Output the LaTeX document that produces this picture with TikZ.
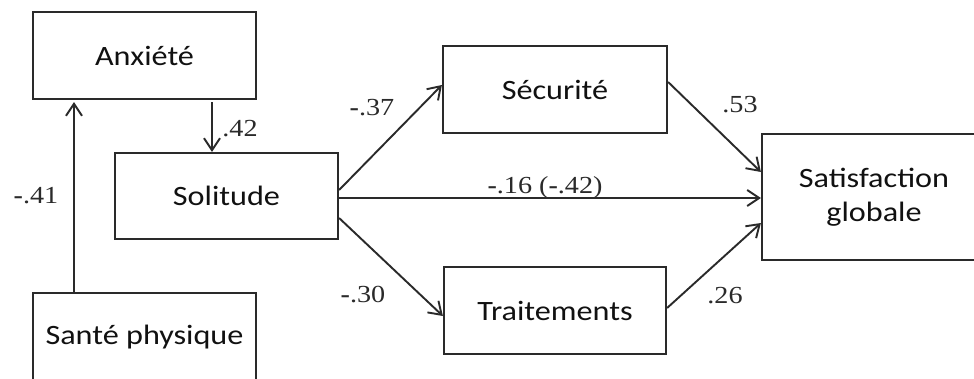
\documentclass[tikz,border=0pt]{standalone}
\usepackage{fontspec}
\usepackage{graphicx}
\setmainfont{Liberation Serif}
\newfontfamily\boxfont{Carlito}
\usetikzlibrary{arrows.meta,positioning}
\definecolor{lineC}{HTML}{2A2A2A}
\definecolor{textC}{HTML}{111111}
\definecolor{numC}{HTML}{2A2A2A}
\newcommand\bxs[1]{\scalebox{1.15}[1]{#1}}
\newcommand\ms{\textbf{-}}
\begin{document}
\begin{tikzpicture}[x=1pt,y=-1pt,
  box/.style={draw=lineC, line width=2.2pt, rectangle, inner sep=0pt,
    font=\boxfont\fontsize{28}{34}\selectfont, text=textC, align=center},
  arr/.style={draw=lineC, line width=1.9pt, -{Straight Barb[length=12pt,width=16pt,line width=1.9pt]}},
  num/.style={font=\fontsize{24.5}{28}\selectfont, text=numC, inner sep=0pt}]
\useasboundingbox (0,0) rectangle (974,378);
\clip (0,0) rectangle (974,378);
\fill[white] (0,0) rectangle (974,378);

\node[box, minimum width=223pt, minimum height=87pt] (anx) at (144.5,55.5) {\bxs{Anxiété}};
\node[box, minimum width=223pt, minimum height=86pt] (sol) at (226.5,196) {\bxs{Solitude}};
\node[box, minimum width=223pt, minimum height=89pt] (sante) at (144.5,337.5) {\bxs{Santé physique}};
\node[box, minimum width=224pt, minimum height=87pt] (sec) at (555,89.5) {\bxs{Sécurité}};
\node[box, minimum width=222pt, minimum height=87pt] (trt) at (555,310.5) {\bxs{Traitements}};
\node[box, minimum width=224pt, minimum height=126pt] (sat) at (874,197) {\bxs{Satisfaction}\\\bxs{globale}};

\draw[arr, shorten >=2pt] ([xshift=-70.5pt]sante.north) -- ([xshift=-70.5pt]anx.south);
\draw[arr, shorten <=2pt] ([xshift=67.5pt]anx.south) -- ([xshift=-14.5pt]sol.north);
\draw[arr] ([yshift=6pt]sol.east) -- ([yshift=4.5pt]sec.west);
\draw[arr] ([yshift=-2pt]sol.east) -- ([yshift=-2pt]sol.east -| sat.west);
\draw[arr] ([yshift=-22pt]sol.east) -- ([yshift=-5.5pt]trt.west);
\draw[arr] ([yshift=7.5pt]sec.east) -- ([yshift=25pt]sat.west);
\draw[arr] ([yshift=2.5pt]trt.east) -- ([yshift=-26pt]sat.west);

\node[num] (l42) at (240,129) {\bxs{.42}};
\node[num] (l41) at (36,195.5) {\bxs{\ms.41}};
\node[num] (l37) at (372,108) {\bxs{\ms.37}};
\node[num] (l30) at (363,295) {\bxs{\ms.30}};
\node[num] (l16) at (545,188) {\bxs{\ms.16 (\ms.42)}};
\node[num] (l53) at (740,105) {\bxs{.53}};
\node[num] (l26) at (725,296) {\bxs{.26}};
\end{tikzpicture}
\end{document}
